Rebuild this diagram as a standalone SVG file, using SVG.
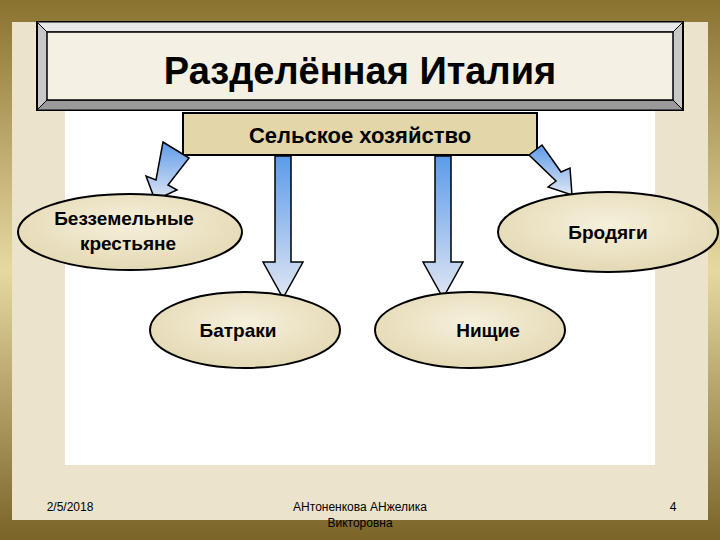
<svg xmlns="http://www.w3.org/2000/svg" width="720" height="540" viewBox="0 0 720 540">
<defs>
<linearGradient id="gold" x1="0" y1="0" x2="0" y2="1"><stop offset="0" stop-color="#8a7230"/><stop offset="0.5" stop-color="#e6d9a0"/><stop offset="1" stop-color="#7a6428"/></linearGradient>
<linearGradient id="ar" x1="0" y1="0" x2="0" y2="1"><stop offset="0" stop-color="#5d9bea"/><stop offset="1" stop-color="#dfe6f3"/></linearGradient>
<radialGradient id="el" cx="0.5" cy="0.4" r="0.6"><stop offset="0" stop-color="#f6f0dc"/><stop offset="1" stop-color="#e4d9b4"/></radialGradient>
<style>
.t{font-family:"Liberation Sans",Arial,sans-serif;fill:#000;text-anchor:middle}
.n{font-weight:bold;font-size:19px}
.e{fill:url(#el);stroke:#000;stroke-width:2}
.a{fill:url(#ar);stroke:#000;stroke-width:1.5}
</style>
</defs>
<rect width="720" height="540" fill="url(#gold)"/>
<rect x="12" y="22" width="696" height="498" fill="#ece3cc"/>
<rect x="65" y="110" width="590" height="355" fill="#ffffff"/>
<g id="title">
<rect x="37" y="22" width="646" height="88" fill="#c8c8c8" stroke="#000" stroke-width="2"/>
<polygon points="37,22 683,22 673,32 47,32" fill="#e8e8e8" stroke="#000"/>
<polygon points="37,110 683,110 673,100 47,100" fill="#9a9a9a" stroke="#000"/>
<rect x="47" y="32" width="626" height="68" fill="#f4f0e4" stroke="#000" stroke-width="1.5"/>
<text class="t" x="360" y="84" font-size="38" font-weight="bold">Разделённая Италия</text>
</g>
<g id="sub">
<rect x="183" y="113" width="354" height="42" fill="#e3d7aa" stroke="#000" stroke-width="2"/>
<text class="t" x="360" y="143" font-size="22" font-weight="bold">Сельское хозяйство</text>
</g>
<g id="connectors">
<polygon class="a" points="275,156 291,156 291,262 303,262 283,298 263,262 275,262"/>
<polygon class="a" points="435,156 451,156 451,262 463,262 443,298 423,262 435,262"/>
<polygon class="a" points="176,150 189,158 168,185 177,190 155,200 146,176 156,180 163,142"/>
<polygon class="a" points="529,155 542,145 561,172 570,168 572,195 548,187 556,181"/>
</g>
<g id="n1"><ellipse class="e" cx="130" cy="232" rx="112" ry="38"/>
<text class="t n" x="124" y="225">Безземельные</text><text class="t n" x="128" y="250">крестьяне</text></g>
<g id="n2"><ellipse class="e" cx="608" cy="232" rx="110" ry="40"/>
<text class="t n" x="608" y="239">Бродяги</text></g>
<g id="n3"><ellipse class="e" cx="245" cy="330" rx="95" ry="38"/>
<text class="t n" x="238" y="337">Батраки</text></g>
<g id="n4"><ellipse class="e" cx="470" cy="330" rx="95" ry="38"/>
<text class="t n" x="488" y="337">Нищие</text></g>
<g id="footer" font-size="12">
<text class="t" x="70" y="511" fill="#333">2/5/2018</text>
<text class="t" x="360" y="511">АНтоненкова АНжелика</text>
<text class="t" x="360" y="527">Викторовна</text>
<text class="t" x="673" y="511">4</text>
</g>
</svg>
